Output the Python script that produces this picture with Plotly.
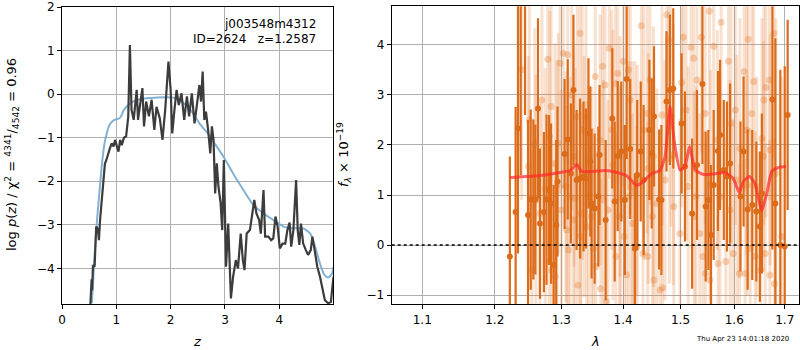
import plotly.graph_objects as go

# ---- redshift PDF (left panel) ----
pz_z = [0.52, 0.545, 0.555, 0.57, 0.60, 0.63, 0.66, 0.68, 0.70, 0.73, 0.76, 0.79, 0.82, 0.84,
        0.88, 0.915, 0.95, 0.976, 1.0, 1.04, 1.07, 1.10, 1.14, 1.18, 1.20, 1.22, 1.25, 1.265,
        1.28, 1.32, 1.35, 1.375, 1.40, 1.43, 1.48, 1.51, 1.55, 1.60, 1.65, 1.70, 1.74, 1.80,
        1.85, 1.90, 1.96, 2.0, 2.03, 2.07, 2.11, 2.15, 2.20, 2.25, 2.30, 2.34, 2.39, 2.44,
        2.48, 2.53, 2.56, 2.59, 2.62, 2.65, 2.69, 2.73, 2.76, 2.79, 2.82, 2.85, 2.88, 2.92,
        2.95, 2.98, 3.02, 3.06, 3.11, 3.15, 3.20, 3.24, 3.29, 3.33, 3.36, 3.40, 3.46, 3.54,
        3.58, 3.63, 3.66, 3.71, 3.74, 3.80, 3.85, 3.89, 3.93, 3.97, 4.01, 4.06, 4.11, 4.15,
        4.19, 4.22, 4.26, 4.31, 4.34, 4.37, 4.40, 4.44, 4.49, 4.53, 4.58, 4.61, 4.66, 4.70,
        4.75, 4.80, 4.84, 4.90, 4.95, 4.985, 5.0]
pz_logp = [-4.9, -4.25, -4.5, -3.92, -3.96, -3.04, -3.1, -3.35, -2.9, -2.45, -2.05, -1.6, -1.5,
           -1.40, -1.25, -1.13, -1.2, -1.05, -1.15, -1.32, -1.05, -1.17, -1.0, -0.97, -0.75,
           -0.51, 1.13, -0.2, -0.36, -0.59, -0.2, 0.1, -0.59, -0.28, 0.14, -0.74, -0.17, -0.51,
           -0.13, -0.82, -0.29, -0.55, -1.05, -0.36, 0.75, 0.10, -0.9, -0.36, 0.10, -0.25,
           0.02, -0.59, -0.05, -0.51, 0.02, -0.67, -0.21, 0.21, -0.17, 0.52, -0.59, -0.4,
           -0.82, -1.36, -0.74, -1.05, -2.28, -1.59, -2.12, -2.5, -3.12, -1.51, -3.96, -2.97,
           -4.69, -4.19, -3.81, -4.0, -3.2, -3.81, -4.04, -3.2, -3.12, -2.43, -2.74, -2.89,
           -3.2, -2.2, -3.27, -3.27, -3.35, -3.31, -2.81, -3.04, -3.54, -3.43, -3.43, -3.12,
           -2.95, -3.5, -3.12, -1.97, -3.12, -3.46, -2.97, -3.43, -3.58, -3.69, -3.58, -3.27,
           -3.65, -3.96, -4.19, -4.5, -4.73, -4.8, -4.77, -4.34, -4.19]

chi2_z = [0.55, 0.60, 0.64, 0.70, 0.74, 0.78, 0.82, 0.86, 0.90, 0.95, 1.0, 1.05, 1.09, 1.13,
          1.18, 1.25, 1.35, 1.5, 1.7, 1.9, 2.05, 2.2, 2.3, 2.4, 2.54, 2.65, 2.73, 2.82, 2.97,
          3.15, 3.34, 3.52, 3.71, 3.89, 4.08, 4.26, 4.44, 4.57, 4.66, 4.75, 4.83, 4.90, 4.97,
          5.0]
chi2_logp = [-4.8, -3.7, -2.96, -2.1, -1.55, -1.15, -0.92, -0.75, -0.66, -0.6, -0.58, -0.56,
             -0.5, -0.38, -0.3, -0.22, -0.15, -0.1, -0.08, -0.07, -0.08, -0.17, -0.27, -0.42,
             -0.69, -0.85, -0.98, -1.15, -1.43, -1.82, -2.2, -2.54, -2.74, -2.89, -3.04, -3.08,
             -3.08, -3.2, -3.5, -3.89, -4.15, -4.21, -4.12, -3.96]

# ---- 1D spectrum (right panel) ----
dark_wave = [1.222, 1.2305, 1.234, 1.238, 1.2445, 1.249, 1.253, 1.257, 1.260, 1.264, 1.267,
             1.273, 1.277, 1.281, 1.284, 1.288, 1.292, 1.294, 1.305, 1.310, 1.315, 1.319,
             1.324, 1.3295, 1.335, 1.339, 1.343, 1.346, 1.348, 1.353, 1.359, 1.361, 1.371,
             1.382, 1.386, 1.391, 1.397, 1.403, 1.406, 1.412, 1.420, 1.424, 1.430, 1.435,
             1.445, 1.449, 1.453, 1.462, 1.466, 1.475, 1.481, 1.487, 1.502, 1.508, 1.521,
             1.530, 1.540, 1.546, 1.551, 1.556, 1.561, 1.569, 1.573, 1.580, 1.586, 1.592,
             1.612, 1.618, 1.626, 1.635, 1.643, 1.650, 1.654, 1.675, 1.681, 1.691, 1.700,
             1.706]
dark_flux = [-0.23, 0.66, 2.33, 5.0, 5.2, 0.60, 0.91, 0.91, 0.91, 2.73, 0.43, 0.66, 0.91, 1.10,
             0.83, -0.40, 0.40, 1.27, 1.82, 2.11, 1.43, 3.10, 1.30, 1.33, 1.37, 1.33, 2.23,
             1.67, 0.83, 0.73, 0.97, 1.80, 0.50, 2.53, 0.87, 1.78, 1.87, 0.90, 3.32, 1.92,
             -0.07, 1.40, 1.87, 1.30, 2.30, 1.83, 2.57, 0.91, 0.90, 2.87, 3.10, 3.13, 2.43,
             1.57, 0.63, 1.60, 3.22, 0.77, 0.90, 0.20, 1.20, 1.88, 2.20, 1.50, 1.37, 1.63,
             0.97, 1.87, 0.71, 0.80, 0.67, 0.37, 1.03, 2.91, 0.83, 0.00, -0.03, 2.60]
dark_err = [2.0, 2.1, 2.5, 3.6, 2.6, 1.9, 1.8, 1.6, 1.5, 1.8, 1.5, 1.6, 1.7, 1.5, 1.6, 1.6,
            1.7, 1.5, 1.5, 1.6, 1.4, 1.5, 1.4, 1.6, 1.5, 1.4, 1.5, 1.5, 1.5, 1.5, 1.4, 1.4,
            1.6, 1.4, 1.6, 1.5, 1.4, 1.5, 1.6, 1.4, 1.5, 1.5, 1.4, 1.5, 1.4, 1.5, 1.4, 1.4,
            1.5, 1.4, 1.5, 1.6, 1.4, 1.5, 1.5, 1.5, 1.6, 1.5, 1.4, 1.4, 1.5, 1.6, 1.5, 1.4,
            1.5, 1.6, 1.5, 1.5, 1.6, 1.5, 1.4, 1.5, 1.6, 3.0, 3.3, 3.5, 3.6, 1.9]

light_wave = [1.2394, 1.2494, 1.251, 1.255, 1.259, 1.261, 1.267, 1.270, 1.275, 1.279, 1.281,
              1.282, 1.284, 1.285, 1.290, 1.2906, 1.293, 1.295, 1.298, 1.300, 1.303, 1.307,
              1.3083, 1.310, 1.311, 1.3136, 1.316, 1.319, 1.320, 1.3215, 1.325, 1.326, 1.3295,
              1.330, 1.331, 1.333, 1.336, 1.339, 1.340, 1.343, 1.348, 1.351, 1.354, 1.355,
              1.362, 1.363, 1.366, 1.367, 1.370, 1.372, 1.375, 1.377, 1.381, 1.383, 1.387,
              1.388, 1.391, 1.394, 1.395, 1.396, 1.4005, 1.402, 1.406, 1.409, 1.410, 1.412,
              1.415, 1.416, 1.420, 1.4235, 1.424, 1.431, 1.434, 1.435, 1.441, 1.442, 1.443,
              1.446, 1.450, 1.452, 1.453, 1.458, 1.4636, 1.467, 1.468, 1.4724, 1.4755, 1.479,
              1.480, 1.483, 1.487, 1.488, 1.499, 1.502, 1.505, 1.510, 1.514, 1.519, 1.524,
              1.525, 1.528, 1.530, 1.535, 1.538, 1.541, 1.545, 1.546, 1.553, 1.554, 1.555,
              1.561, 1.568, 1.569, 1.573, 1.575, 1.584, 1.589, 1.592, 1.594, 1.598, 1.602,
              1.605, 1.610, 1.611, 1.619, 1.621, 1.624, 1.625, 1.627, 1.631, 1.634, 1.638,
              1.641, 1.644, 1.652, 1.654, 1.657, 1.658, 1.6606, 1.662, 1.669, 1.670, 1.6706,
              1.678, 1.679, 1.682, 1.694]
light_flux = [3.5, 1.57, 2.5, -0.5, 2.03, 0.9, 0.63, 2.9, 1.13, 3.71, -0.33, 2.17, 2.77, -0.5,
              1.63, -0.63, 1.2, 2.03, 3.63, 0.7, 3.83, 1.17, 0.3, 3.8, -0.1, 0.97, 3.0, 0.5,
              1.77, 0.93, 2.57, -0.8, 4.23, 0.17, 0.63, 2.3, 1.37, 2.57, 0.37, 0.97, 0.57,
              -0.07, 3.37, -0.43, 2.1, -0.87, 3.57, 0.9, 3.2, -1.13, 0.7, 3.93, 2.3, 1.6, 3.23,
              -0.23, 3.43, 0.57, 1.77, 0.9, 3.67, 0.17, -0.6, 3.5, 0.97, 2.9, 1.17, 0.43, 1.07,
              -0.03, 1.3, 4.38, -0.17, 2.3, 2.63, -0.23, 1.53, 3.3, 0.57, 1.77, -0.7, 0.83,
              -0.9, 2.6, -0.85, 1.3, 4.6, 4.1, 1.73, 2.57, 1.8, 0.77, 0.23, 3.25, 4.15, 2.7,
              1.17, 3.95, 3.73, 0.57, 0.97, 3.3, 0.23, 4.15, -0.23, 2.63, -0.57, 4.67, -0.7,
              1.2, 3.97, 2.1, -0.37, 0.97, 4.45, -0.33, 3.67, 0.7, 2.43, -0.17, 2.7, 1.3, -0.57,
              1.93, 3.47, -0.57, 2.3, 1.2, 4.11, -0.07, 2.63, 3.27, -0.23, 1.17, -0.5, 2.13,
              1.77, 2.9, -0.17, 3.15, 3.3, -0.6, 1.9, 4.23, -0.77, 1.43, 0.17]
light_err = [2.6, 2.2, 2.5, 2.4, 2.3, 2.5, 2.2, 2.6, 2.4, 2.7, 2.3, 2.5, 2.2, 2.6, 2.4, 2.3,
             2.5, 2.2, 2.6, 2.4, 2.7, 2.3, 2.5, 2.2, 2.6, 2.4, 2.3, 2.5, 2.2, 2.6, 2.4, 2.7,
             2.3, 2.5, 2.2, 2.6, 2.4, 2.3, 2.5, 2.2, 2.6, 2.4, 2.7, 2.3, 2.5, 2.2, 2.6, 2.4,
             2.3, 2.5, 2.2, 2.6, 2.4, 2.7, 2.3, 2.5, 2.2, 2.6, 2.4, 2.3, 2.5, 2.2, 2.6, 2.4,
             2.7, 2.3, 2.5, 2.2, 2.6, 2.4, 2.3, 2.5, 2.2, 2.6, 2.4, 2.7, 2.3, 2.5, 2.2, 2.6,
             2.4, 2.3, 2.5, 2.2, 2.6, 2.4, 2.7, 2.3, 2.5, 2.2, 2.6, 2.4, 2.3, 2.5, 2.2, 2.6,
             2.4, 2.7, 2.3, 2.5, 2.2, 2.6, 2.4, 2.3, 2.5, 2.2, 2.6, 2.4, 2.7, 2.3, 2.5, 2.2,
             2.6, 2.4, 2.3, 2.5, 2.2, 2.6, 2.4, 2.7, 2.3, 2.5, 2.2, 2.6, 2.4, 2.3, 2.5, 2.2,
             2.6, 2.4, 2.7, 2.3, 2.5, 2.2, 2.6, 2.4, 2.3, 2.5, 2.2, 2.6, 2.4, 2.7, 2.3, 2.5,
             2.9, 3.1, 3.2, 3.0, 3.3]

model_wave = [1.2221, 1.267, 1.298, 1.3137, 1.3243, 1.332, 1.351, 1.370, 1.390, 1.4065,
              1.423, 1.4345, 1.449, 1.4636, 1.4724, 1.4813, 1.4884, 1.499, 1.508, 1.5164,
              1.5267, 1.542, 1.5607, 1.5827, 1.598, 1.6098, 1.6175, 1.6292, 1.6404, 1.6537,
              1.6637, 1.6737, 1.688, 1.7026]
model_flux = [1.35, 1.39, 1.45, 1.49, 1.61, 1.47, 1.47, 1.49, 1.45, 1.38, 1.19, 1.27, 1.43,
              1.49, 1.77, 2.77, 2.1, 1.5, 1.57, 1.97, 1.5, 1.41, 1.42, 1.45, 1.33, 1.05, 1.27,
              1.37, 1.23, 0.69, 1.03, 1.47, 1.55, 1.57]

z_ticks = [0, 1, 2, 3, 4]
logp_ticks = [-4, -3, -2, -1, 0, 1, 2]
wave_ticks = [1.1, 1.2, 1.3, 1.4, 1.5, 1.6, 1.7]
wave_tick_text = ["1.1", "1.2", "1.3", "1.4", "1.5", "1.6", "1.7"]
flux_ticks = [-1, 0, 1, 2, 3, 4]

ORANGE = "rgb(220,108,26)"
ORANGE_LIGHT = "rgba(228,120,40,0.22)"
ORANGE_LIGHT_DOT = "rgba(228,120,40,0.32)"
FONT = "DejaVu Sans"

fig = go.Figure()

fig.add_trace(go.Scatter(x=chi2_z, y=chi2_logp, mode="lines", xaxis="x", yaxis="y",
                         line=dict(color="rgba(116,169,207,0.9)", width=2, shape="spline",
                                   smoothing=0.6),
                         showlegend=False, hoverinfo="skip"))
fig.add_trace(go.Scatter(x=pz_z, y=pz_logp, mode="lines", xaxis="x", yaxis="y",
                         line=dict(color="#3c3c3c", width=2.2),
                         showlegend=False, hoverinfo="skip"))

fig.add_trace(go.Scatter(x=light_wave, y=light_flux, mode="markers", xaxis="x2", yaxis="y2",
                         marker=dict(color=ORANGE_LIGHT_DOT, size=7, line=dict(width=0)),
                         error_y=dict(type="data", array=light_err, thickness=3, width=0,
                                      color=ORANGE_LIGHT),
                         showlegend=False, hoverinfo="skip"))
fig.add_trace(go.Scatter(x=dark_wave, y=dark_flux, mode="markers", xaxis="x2", yaxis="y2",
                         marker=dict(color=ORANGE, size=6, line=dict(width=0)),
                         error_y=dict(type="data", array=dark_err, thickness=2.2, width=0,
                                      color=ORANGE),
                         showlegend=False, hoverinfo="skip"))
fig.add_trace(go.Scatter(x=model_wave, y=model_flux, mode="lines", xaxis="x2", yaxis="y2",
                         line=dict(color="rgba(255,40,40,0.7)", width=3, shape="spline",
                                   smoothing=0.5),
                         showlegend=False, hoverinfo="skip"))

axis_common = dict(showline=True, mirror=True, linecolor="black", linewidth=1,
                   ticks="outside", ticklen=4, tickcolor="black", showgrid=True,
                   gridcolor="#b0b0b0", gridwidth=1, zeroline=False, automargin=False,
                   tickfont=dict(family=FONT, size=12, color="black"))

fig.update_layout(
    width=800, height=350,
    margin=dict(l=0, r=0, t=0, b=0, autoexpand=False),
    paper_bgcolor="white", plot_bgcolor="white",
    font=dict(family=FONT, size=12, color="black"),
    xaxis=dict(domain=[0.0775, 0.4163], range=[0, 4.99], tickvals=z_ticks, anchor="y",
               **axis_common),
    yaxis=dict(domain=[0.131, 0.98], range=[-4.82, 2.0], tickvals=logp_ticks, anchor="x",
               **axis_common),
    xaxis2=dict(domain=[0.4896, 0.9991], type="log", range=[0.02543, 0.23804],
                tickvals=wave_ticks, ticktext=wave_tick_text, anchor="y2", **axis_common),
    yaxis2=dict(domain=[0.131, 0.982], range=[-1.18, 4.77], tickvals=flux_ticks,
                anchor="x2", **axis_common),
)

# zero-flux reference line
fig.add_shape(type="line", xref="x2 domain", x0=0, x1=1, yref="y2", y0=0, y1=0,
              line=dict(color="black", width=1.5, dash="dot"))

annotations = [
    dict(text="j003548m4312", x=0.3975, y=0.931, xanchor="right", yanchor="middle"),
    dict(text="ID=2624\u00a0\u00a0\u00a0z=1.2587", x=0.3975, y=0.889, xanchor="right",
         yanchor="middle"),
    dict(text="<i>z</i>", x=197 / 800, y=1 - 341 / 350, xanchor="center", yanchor="middle",
         font=dict(family=FONT, size=13)),
    dict(text="<i>λ</i>", x=595 / 800, y=1 - 341 / 350, xanchor="center", yanchor="middle",
         font=dict(family=FONT, size=13)),
    dict(text="log <i>p</i>(<i>z</i>) / χ<sup>2</sup> = <sup>4341</sup>/<sub>4542</sub> = 0.96",
         x=12 / 800, y=1 - 155 / 350, xanchor="center", yanchor="middle", textangle=-90,
         font=dict(family=FONT, size=13)),
    dict(text="<i>f</i><sub><i>λ</i></sub> × 10<sup>−19</sup>", x=344 / 800,
         y=1 - 155 / 350, xanchor="center", yanchor="middle", textangle=-90,
         font=dict(family=FONT, size=13)),
    dict(text="Thu Apr 23 14:01:18 2020", x=742 / 800, y=1 - 339 / 350, xanchor="center",
         yanchor="middle", font=dict(family=FONT, size=7)),
]
for a in annotations:
    a.setdefault("font", dict(family=FONT, size=12))
    fig.add_annotation(xref="paper", yref="paper", showarrow=False, **a)

fig.write_html("out.html")
